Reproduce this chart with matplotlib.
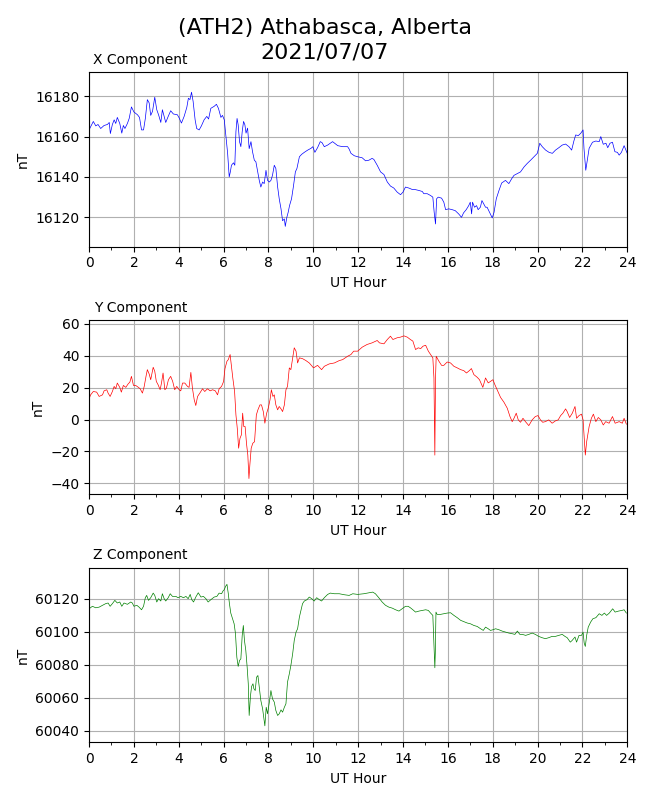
import numpy as np
import matplotlib
matplotlib.use('Agg')
import matplotlib.pyplot as plt
from matplotlib.ticker import MultipleLocator

# Estação e data
estacao = '(ATH2) Athabasca, Alberta'
data_str = '2021/07/07'

# Componente X (horas UT, nT)
x_hr = [0.00, 0.19, 0.30, 0.40, 0.52, 0.67, 0.82, 0.90, 0.95, 1.04, 1.12, 1.19, 1.26, 1.37, 1.46,
        1.53, 1.60, 1.71, 1.79, 1.89, 2.00, 2.16, 2.25, 2.34, 2.43, 2.51, 2.60, 2.68, 2.75, 2.83,
        2.93, 3.02, 3.10, 3.20, 3.27, 3.35, 3.42, 3.53, 3.64, 3.76, 3.94, 4.02, 4.12, 4.24, 4.36,
        4.43, 4.50, 4.57, 4.64, 4.73, 4.80, 4.91, 5.01, 5.13, 5.25, 5.33, 5.43, 5.58, 5.68, 5.77,
        5.88, 5.95, 6.03, 6.10, 6.18, 6.25, 6.30, 6.35, 6.44, 6.50, 6.55, 6.60, 6.65, 6.71, 6.77,
        6.83, 6.89, 6.95, 7.00, 7.07, 7.14, 7.22, 7.29, 7.37, 7.44, 7.52, 7.59, 7.66, 7.74, 7.81,
        7.89, 7.96, 8.04, 8.11, 8.18, 8.26, 8.33, 8.41, 8.48, 8.56, 8.63, 8.71, 8.75, 8.82, 8.88,
        8.94, 9.03, 9.12, 9.20, 9.27, 9.38, 9.48, 9.60, 9.75, 9.90, 9.98, 10.07, 10.19, 10.31, 10.39,
        10.49, 10.64, 10.86, 11.09, 11.31, 11.53, 11.60, 11.68, 11.83, 11.98,
        12.18, 12.33, 12.48, 12.62, 12.70, 12.85, 13.00, 13.15, 13.30, 13.44, 13.59, 13.74, 13.89,
        14.00, 14.11, 14.26, 14.41, 14.56, 14.71, 14.86, 14.93, 15.08, 15.23, 15.33, 15.39, 15.45,
        15.50, 15.57, 15.72, 15.82, 15.90, 16.04, 16.19, 16.33, 16.48, 16.61, 16.70, 16.82, 16.93,
        17.00, 17.06, 17.10, 17.19, 17.28, 17.35, 17.45, 17.52, 17.60, 17.68, 17.75, 17.86, 17.98,
        18.06, 18.16, 18.28, 18.40, 18.57, 18.72, 18.85, 18.95, 19.10, 19.24, 19.40, 19.54, 19.69,
        19.84, 19.99, 20.10, 20.21, 20.36, 20.51, 20.66, 20.80, 20.95, 21.10, 21.25, 21.40, 21.52,
        21.62, 21.70, 21.82, 21.93, 22.03, 22.07, 22.15, 22.23, 22.30, 22.45, 22.60, 22.75, 22.82,
        22.93, 23.05, 23.13, 23.23, 23.34, 23.45, 23.56, 23.64, 23.74, 23.86, 24.00]
x_nt = [16163.3, 16167.5, 16165.3, 16166, 16164, 16165.5, 16166, 16167, 16161.5, 16166, 16168.3,
        16166.5, 16169.5, 16166.5, 16161.7, 16165.5, 16164, 16166.5, 16169, 16174.7, 16172.2,
        16170.8, 16169.5, 16163.3, 16163.3, 16169, 16178.3, 16176.7, 16170.5, 16172.5, 16179.5,
        16173.3, 16170.8, 16167, 16173.3, 16170, 16167, 16170, 16172.8, 16171.2, 16170.8, 16169.2,
        16166.7, 16170, 16174.5, 16179, 16178.3, 16182, 16177.5, 16168.3, 16164, 16163.3, 16165.3,
        16168.3, 16170, 16168.7, 16174, 16175, 16176, 16174, 16169.5, 16170.5, 16168.3, 16160.8,
        16151.7, 16140, 16142.5, 16145.8, 16147, 16145.8, 16162.5, 16169, 16165.8, 16157.5, 16155,
        16162.5, 16167.5, 16165.8, 16161.7, 16164.2, 16154, 16157.5, 16152.5, 16148.3, 16147.5,
        16142.5, 16138.3, 16135, 16137.5, 16136.7, 16143.3, 16138.3, 16137.5, 16138.3, 16140.8,
        16145.8, 16144.2, 16135, 16129.2, 16124.2, 16118.3, 16119.2, 16115.5, 16120, 16122.5,
        16125.8, 16129.2, 16135.8, 16142.5, 16144.2, 16150, 16151.2, 16152.2, 16153.3, 16154.2,
        16155, 16152.2, 16154.5, 16157.5, 16157, 16155, 16155.8, 16157.5, 16155.5, 16155, 16155,
        16153.8, 16151.7, 16150.5, 16150,
        16149.5, 16148, 16148.3, 16149.2, 16148.7, 16145.8, 16142.5, 16141.2, 16137.5, 16135.5,
        16134.5, 16132.5, 16131.2, 16132.5, 16135, 16134.5, 16133.8, 16133.7, 16133.3, 16132.8,
        16131.7, 16131.7, 16130.8, 16130, 16122.5, 16116.7, 16129.2, 16130, 16129.5, 16127.5,
        16123.8, 16124.2, 16123.8, 16123.3, 16121.7, 16120, 16122.2, 16123.8, 16125.8, 16127.5,
        16121.7, 16127.5, 16125, 16125.8, 16123.8, 16125, 16128.3, 16126.7, 16125, 16125, 16122.5,
        16119.7, 16122.5, 16129.2, 16133.3, 16137, 16138.3, 16136.7, 16139.2, 16140.8, 16141.7,
        16142.5, 16145, 16146.7, 16148.3, 16150, 16151.7, 16156.7, 16155, 16153.3, 16152.2,
        16151.7, 16153.3, 16154.5, 16155.8, 16156.3, 16155, 16153.3, 16157.8, 16160.8, 16160.5,
        16161.7, 16163.3, 16154.2, 16143.3, 16149.2, 16154.2, 16157.2, 16157.8, 16157.5, 16160,
        16156.2, 16156.7, 16154.5, 16156.7, 16157.2, 16152.5, 16152.2, 16150.8, 16152.2, 16155.5,
        16151.7]

# Componente Y
y_hr = [0.00, 0.07, 0.19, 0.34, 0.45, 0.60, 0.67, 0.79, 0.85, 0.94, 1.04, 1.12, 1.19, 1.26, 1.37,
        1.44, 1.53, 1.64, 1.74, 1.82, 1.89, 1.98, 2.08, 2.20, 2.28, 2.38, 2.46, 2.54, 2.60, 2.68,
        2.75, 2.86, 2.93, 3.00, 3.08, 3.17, 3.23, 3.30, 3.38, 3.45, 3.54, 3.64, 3.73, 3.82, 3.91,
        4.02, 4.09, 4.17, 4.27, 4.39, 4.46, 4.54, 4.61, 4.69, 4.76, 4.84, 4.94, 5.06, 5.16, 5.28,
        5.40, 5.51, 5.63, 5.73, 5.80, 5.91, 6.00, 6.06, 6.15, 6.21, 6.29, 6.34, 6.41, 6.49, 6.55,
        6.61, 6.67, 6.73, 6.79, 6.85, 6.90, 6.96, 7.02, 7.08, 7.13, 7.17, 7.23, 7.30, 7.38, 7.46,
        7.53, 7.62, 7.69, 7.77, 7.84, 7.92, 7.99, 8.07, 8.13, 8.20, 8.26, 8.33, 8.41, 8.48, 8.56,
        8.63, 8.71, 8.78, 8.85, 8.93, 9.00, 9.08, 9.15, 9.23, 9.30, 9.38, 9.52, 9.67, 9.82, 10.01,
        10.19, 10.37, 10.49, 10.71, 10.94, 11.16, 11.31, 11.53, 11.68, 11.80, 11.98,
        12.18, 12.40, 12.62, 12.85, 12.95, 13.15, 13.30, 13.44, 13.55, 13.74, 13.89, 14.04, 14.19,
        14.33, 14.44, 14.56, 14.68, 14.79, 14.89, 15.01, 15.13, 15.23, 15.33, 15.38, 15.42, 15.45,
        15.48, 15.60, 15.72, 15.82, 15.97, 16.12, 16.27, 16.42, 16.57, 16.71, 16.83, 16.96, 17.05,
        17.16, 17.31, 17.41, 17.56, 17.68, 17.80, 17.90, 18.01, 18.10, 18.20, 18.35, 18.50, 18.65,
        18.77, 18.87, 18.95, 19.05, 19.14, 19.24, 19.35, 19.46, 19.61, 19.76, 19.90, 20.02, 20.13,
        20.23, 20.35, 20.50, 20.65, 20.80, 20.92, 21.03, 21.13, 21.25, 21.32, 21.43, 21.55, 21.67,
        21.74, 21.85, 21.96, 22.03, 22.08, 22.13, 22.19, 22.30, 22.40, 22.49, 22.60, 22.71, 22.82,
        22.93, 23.04, 23.19, 23.34, 23.46, 23.64, 23.78, 23.86, 23.96]
y_nt = [13, 15.5, 17.6, 17.2, 14.5, 15.5, 18, 18.7, 16.6, 14.5, 17.6, 20.8, 19.3, 22.9, 20.2, 17.2,
        21.4, 20.2, 22.3, 23.5, 27.1, 21.4, 21.4, 20.2, 19.3, 16.6, 20.8, 27.1, 31.3, 28.6, 25, 32.8,
        30.3, 23.9, 21.8, 18.7, 22.9, 29.2, 18.7, 19.7, 25, 27.1, 23.9, 18.7, 20.8, 18.7, 18, 22.9,
        22.9, 20.8, 20.2, 29.6, 19.7, 12.4, 8.8, 14.5, 16.6, 19.3, 17.6, 19.3, 18, 18.7, 18, 15.5,
        19.3, 20.8, 23.9, 31.9, 36.6, 37.6, 40.8, 34.5, 26.1, 17.6, 2.9, -5.5, -18, -11.8, -9.7, 4,
        -4.4, -4.4, -14.9, -22.3, -37, -28.6, -18, -14.9, -13.9, 2.9, 6.1, 9.2, 9.2, 5, -2.3, 4, 7.1,
        12.4, 18.7, 14.5, 15.5, 9.2, 6.1, 8.2, 6.7, 5, 9.2, 18.7, 20.8, 32.4, 31.3, 38.7, 45, 42.9,
        35.5, 38.7, 38.2, 37, 35.5, 32.4, 34, 31.3, 33.4, 34.9, 35.5, 37, 37.6, 39.7, 40.8, 42.9,
        42.9,
        45.4, 47.1, 48.1, 49.6, 48.1, 47.5, 50.2, 52.3, 50.2, 51.3, 51.7, 52.5, 51.7, 50.2, 49.2,
        43.9, 45, 44.5, 46, 46.6, 42.9, 40.8, 38.7, 26.1, -22.3, 26.1, 39.7, 36.6, 34, 34, 36.1,
        35.5, 33.4, 32.4, 31.3, 30.7, 29.2, 30.7, 32, 28.2, 26.5, 25, 20.2, 26.1, 23, 23.9, 25, 21.8,
        18.7, 13.9, 10.9, 7.1, 1.9, -1.3, 0.8, 4, -0.2, -1.7, 0.8, -1.3, -3.8, -0.2, 1.9, 2.5, -0.2,
        -1.7, -1.3, -0.2, -2.3, -0.8, -0.2, 2.5, 4, 6.7, 5, 1.3, 4, 8.2, 0.8, 2.5, 3.4, -0.2, -11.8,
        -22.3, -13.9, -4.4, 0.8, 3.4, -1.3, 1.3, -0.2, -3.4, -1.3, -2.3, 1.9, -2.3, -1.3, -2.3, 0.8,
        -2.9]

# Componente Z
z_hr = [0.00, 0.15, 0.30, 0.45, 0.60, 0.74, 0.85, 0.94, 1.04, 1.15, 1.26, 1.37, 1.46, 1.56, 1.71,
        1.86, 1.93, 2.00, 2.13, 2.23, 2.34, 2.43, 2.51, 2.57, 2.65, 2.75, 2.86, 2.93, 3.02, 3.10,
        3.20, 3.27, 3.35, 3.42, 3.53, 3.62, 3.72, 3.87, 3.97, 4.09, 4.21, 4.32, 4.42, 4.51, 4.58,
        4.66, 4.76, 4.87, 4.99, 5.10, 5.21, 5.31, 5.43, 5.58, 5.70, 5.80, 5.91, 5.97, 6.03, 6.09,
        6.15, 6.21, 6.26, 6.32, 6.40, 6.47, 6.53, 6.59, 6.65, 6.71, 6.77, 6.83, 6.88, 6.93, 6.99,
        7.05, 7.10, 7.14, 7.20, 7.25, 7.31, 7.35, 7.41, 7.47, 7.53, 7.59, 7.66, 7.74, 7.78, 7.84,
        7.90, 7.96, 8.04, 8.11, 8.18, 8.26, 8.33, 8.41, 8.48, 8.56, 8.63, 8.71, 8.78, 8.85, 8.93,
        9.00, 9.08, 9.15, 9.23, 9.30, 9.38, 9.45, 9.52, 9.60, 9.72, 9.82, 9.93, 10.04, 10.15, 10.27,
        10.37, 10.49, 10.64, 10.76, 10.94, 11.16, 11.38, 11.60, 11.76, 11.98,
        12.25, 12.48, 12.65, 12.77, 12.92, 13.07, 13.22, 13.37, 13.52, 13.67, 13.82, 13.96, 14.11,
        14.23, 14.33, 14.44, 14.56, 14.71, 14.86, 15.01, 15.13, 15.23, 15.33, 15.38, 15.42, 15.44,
        15.47, 15.52, 15.67, 15.82, 15.97, 16.12, 16.27, 16.42, 16.57, 16.71, 16.86, 17.01, 17.16,
        17.31, 17.46, 17.58, 17.68, 17.80, 17.90, 18.01, 18.13, 18.28, 18.42, 18.57, 18.72, 18.87,
        18.99, 19.10, 19.21, 19.32, 19.47, 19.61, 19.76, 19.90, 20.05, 20.20, 20.35, 20.50, 20.65,
        20.80, 20.95, 21.10, 21.22, 21.32, 21.46, 21.54, 21.67, 21.74, 21.85, 21.96, 22.03, 22.08,
        22.13, 22.19, 22.26, 22.37, 22.47, 22.60, 22.75, 22.87, 22.98, 23.08, 23.20, 23.35, 23.46,
        23.61, 23.76, 23.86, 23.96]
z_nt = [60113.9, 60115.4, 60114.5, 60114.9, 60116, 60117, 60117.4, 60115.4, 60117, 60119, 60117.4,
        60118, 60115.4, 60117.4, 60116.6, 60118, 60117.4, 60115.4, 60116, 60114.9, 60113.3, 60115.4,
        60120.6, 60122, 60119, 60120.6, 60123.4, 60122, 60118, 60120, 60118.6, 60123, 60120, 60118.6,
        60120.6, 60123, 60121.4, 60121.4, 60120.6, 60121.4, 60120.6, 60121.4, 60120, 60122.6,
        60119.4, 60118, 60121, 60123.6, 60121, 60121.4, 60120, 60118, 60119.4, 60121, 60121.4,
        60123.4, 60123, 60124.6, 60125.5, 60127.5, 60128.7, 60123, 60117, 60111.3, 60107.9, 60104.8,
        60098.8, 60084.6, 60079, 60082.6, 60083.6, 60097.8, 60103.8, 60094.7, 60088.7, 60078.6,
        60068.5, 60049.3, 60061.4, 60066.9, 60068.5, 60065.5, 60064.4, 60072.5, 60073.5, 60066.5,
        60058.4, 60053.3, 60049.3, 60043, 60054.3, 60050.3, 60057.4, 60064.4, 60059.4, 60057.4,
        60052.3, 60049.3, 60050.3, 60052.7, 60051.3, 60054.3, 60056.4, 60069.5, 60074.5, 60079.6,
        60086.7, 60094.7, 60099.8, 60101.8, 60108.9, 60112.9, 60117, 60118.6, 60119.4, 60121, 60120,
        60118.6, 60120.6, 60119.4, 60118.6, 60120.6, 60122.6, 60123.4, 60123, 60123, 60122.4, 60122,
        60123, 60122.6,
        60123, 60123.6, 60124, 60123, 60120.6, 60118, 60116, 60114.9, 60114.3, 60113.3, 60112.5,
        60113.9, 60115.4, 60115.4, 60114.5, 60113.3, 60111.9, 60112.5, 60112.9, 60113.3, 60112.9,
        60111.3, 60109.9, 60092.7, 60078.2, 60086.7, 60111.9, 60110.5, 60110.5, 60110.9, 60111.3,
        60111.5, 60109.9, 60108.5, 60106.9, 60106.1, 60105.3, 60104.8, 60103.8, 60103.2, 60101.8,
        60100.8, 60102.8, 60101.8, 60100.8, 60101.2, 60101.8, 60101.2, 60100.4, 60099.8, 60099.2,
        60098.8, 60098.4, 60100.4, 60098.4, 60098.4, 60097.8, 60098.4, 60099.2, 60098.4, 60097.2,
        60096.4, 60095.8, 60096.4, 60097.2, 60097.2, 60097.8, 60098.4, 60097.2, 60096.4, 60093.7,
        60094.7, 60096.8, 60093.7, 60097.8, 60097.8, 60099.8, 60093.1, 60091.1, 60097.8, 60102.8,
        60105.9, 60107.9, 60108.5, 60110.9, 60109.9, 60111.3, 60109.9, 60111.3, 60113.9, 60111.9,
        60112.5, 60112.9, 60113.3, 60111.3]

componentes = [('X Component', x_hr, x_nt, 'blue'),
               ('Y Component', y_hr, y_nt, 'red'),
               ('Z Component', z_hr, z_nt, 'green')]

fig, axs = plt.subplots(3, 1, figsize=(6.5, 8), dpi=100)
fig.subplots_adjust(left=0.137, right=0.965, bottom=0.072, top=0.91, hspace=0.42)
fig.suptitle(estacao + '\n' + data_str, fontsize=16, y=0.978, linespacing=1.3)

for ax, (nome, horas, valores, cor) in zip(axs, componentes):
    ax.plot(horas, valores, color=cor, linewidth=0.5)
    # titulo alinhado pela direita, perto do canto esquerdo
    ax.set_title(nome, loc='left', fontsize=10, x=0.1836, ha='right')
    ax.set_xlim(0, 24)
    # limites: min - 10 e max + 10
    ax.set_ylim(min(valores) - 10, max(valores) + 10)
    ax.xaxis.set_major_locator(MultipleLocator(2))
    ax.xaxis.set_minor_locator(MultipleLocator(1))
    ax.yaxis.set_major_locator(MultipleLocator(20))
    ax.set_xlabel('UT Hour')
    ax.set_ylabel('nT')
    ax.grid(True)

plt.savefig('out.png')
